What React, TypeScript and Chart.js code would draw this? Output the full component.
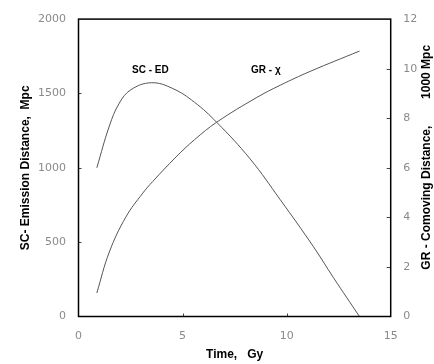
import React, { useEffect, useRef } from "react";
import { Chart, registerables } from "chart.js";

Chart.register(...registerables);

// SC - Emission distance (Mpc) vs time (Gy)
const scTime = [0.88, 1.48, 1.96, 2.52, 3.5, 4.53, 5.57, 6.64, 8.25, 9.69, 11.29, 12.25, 13.5];
const scDistance = [1000, 1280, 1435, 1525, 1572, 1533, 1441, 1306, 1059, 786, 469, 261, 0];

// GR - Comoving distance (1000 Mpc) vs time (Gy)
const grTime = [0.88, 1.48, 2.28, 3.09, 3.57, 4.69, 5.57, 6.64, 8.57, 9.69, 11.13, 13.5];
const grComoving = [0.95, 2.6, 4.02, 4.98, 5.45, 6.44, 7.13, 7.84, 8.84, 9.33, 9.89, 10.71];

// Axis ranges / ticks
const xRange = [0, 15];
const xStep = 5;
const yLeftRange = [0, 2000];
const yLeftStep = 500;
const yRightRange = [0, 12];
const yRightStep = 2;

// Text
const xTitle = "Time,   Gy";
const yLeftTitle = "SC- Emission Distance,  Mpc";
const yRightTitle = "GR - Comoving Distance,        1000 Mpc";
const curveLabels = [
  { text: "SC - ED", t: 3.45, v: 1655 },
  { text: "GR - \u03C7", t: 9.0, v: 1655 },
];

const TICK_FONT = { family: "'DejaVu Sans', sans-serif", size: 11 };
const TICK_COLOR = "#8a8a8a";
const TITLE_FONT = { family: "'Liberation Sans', Arial, sans-serif", size: 12, weight: "bold" as const };
const plainTick = (v: any) => String(v);

const framePlugin = {
  id: "framePlugin",
  afterDraw(chart: any) {
    const { ctx, chartArea, scales } = chart;
    const { left, right, top, bottom } = chartArea;
    ctx.save();
    // inner tick marks
    ctx.strokeStyle = "#444";
    ctx.lineWidth = 1;
    ctx.beginPath();
    const x = scales.x, y = scales.y, y1 = scales.y1;
    x.ticks.forEach((t: any) => {
      if (t.value <= x.min || t.value >= x.max) return;
      const px = Math.round(x.getPixelForValue(t.value)) + 0.5;
      ctx.moveTo(px, bottom);
      ctx.lineTo(px, bottom - 3);
    });
    y.ticks.forEach((t: any) => {
      if (t.value <= y.min || t.value >= y.max) return;
      const py = Math.round(y.getPixelForValue(t.value)) + 0.5;
      ctx.moveTo(left, py);
      ctx.lineTo(left + 3, py);
    });
    y1.ticks.forEach((t: any) => {
      if (t.value <= y1.min || t.value >= y1.max) return;
      const py = Math.round(y1.getPixelForValue(t.value)) + 0.5;
      ctx.moveTo(right, py);
      ctx.lineTo(right - 4, py);
    });
    ctx.stroke();
    // frame
    ctx.strokeStyle = "#000";
    ctx.lineWidth = 1.5;
    ctx.strokeRect(left, top, right - left, bottom - top);

    // curve labels
    ctx.fillStyle = "#000";
    ctx.font = "bold 10px 'Liberation Sans', Arial, sans-serif";
    ctx.textAlign = "center";
    ctx.textBaseline = "middle";
    curveLabels.forEach((l) => {
      ctx.fillText(l.text, x.getPixelForValue(l.t), y.getPixelForValue(l.v));
    });

    // right axis title (reads bottom to top)
    ctx.font = "bold 12px 'Liberation Sans', Arial, sans-serif";
    ctx.translate(chart.width - 7.5, (top + bottom) / 2 - 10.5);
    ctx.rotate(-Math.PI / 2);
    ctx.fillText(yRightTitle, 0, 0);
    ctx.restore();
  },
};

export default function App() {
  const ref = useRef<HTMLCanvasElement | null>(null);

  useEffect(() => {
    document.body.style.margin = "0";
    const canvas = ref.current;
    if (!canvas) return;
    const chart = new Chart(canvas, {
      type: "line",
      data: {
        datasets: [
          {
            label: "SC - ED",
            data: scTime.map((t, i) => ({ x: t, y: scDistance[i] })),
            yAxisID: "y",
            borderColor: "#555",
            borderWidth: 1,
            pointRadius: 0,
            tension: 0.4,
            fill: false,
          },
          {
            label: "GR - \u03C7",
            data: grTime.map((t, i) => ({ x: t, y: grComoving[i] })),
            yAxisID: "y1",
            borderColor: "#555",
            borderWidth: 1,
            pointRadius: 0,
            tension: 0.4,
            fill: false,
          },
        ],
      },
      options: {
        animation: false,
        responsive: false,
        maintainAspectRatio: false,
        layout: { padding: { top: 11.5, left: 0, right: 0, bottom: 0 } },
        plugins: { legend: { display: false }, tooltip: { enabled: false } },
        scales: {
          x: {
            type: "linear",
            min: xRange[0],
            max: xRange[1],
            ticks: { stepSize: xStep, font: TICK_FONT, color: TICK_COLOR, padding: 13, maxRotation: 0, callback: plainTick },
            grid: { display: false, drawTicks: false },
            border: { display: false },
            title: { display: true, text: xTitle, font: TITLE_FONT, color: "#000", padding: { top: 0, bottom: 2 } },
            afterFit: (s: any) => { s.height = 47.5; },
          },
          y: {
            position: "left",
            min: yLeftRange[0],
            max: yLeftRange[1],
            ticks: { stepSize: yLeftStep, font: TICK_FONT, color: TICK_COLOR, padding: 12.5, callback: plainTick },
            grid: { display: false, drawTicks: false },
            border: { display: false },
            title: { display: true, text: yLeftTitle, font: TITLE_FONT, color: "#000", padding: { top: 18.5, bottom: 0 } },
            afterFit: (s: any) => { s.width = 78.5; },
          },
          y1: {
            position: "right",
            min: yRightRange[0],
            max: yRightRange[1],
            ticks: { stepSize: yRightStep, font: TICK_FONT, color: TICK_COLOR, padding: 12.5, callback: plainTick },
            grid: { display: false, drawTicks: false },
            border: { display: false },
            title: { display: false, text: yRightTitle },
            afterFit: (s: any) => { s.width = 43.3; },
          },
        },
      },
      plugins: [framePlugin],
    } as any);
    return () => chart.destroy();
  }, []);

  return (
    <div style={{ width: 434, height: 364 }}>
      <canvas ref={ref} width={434} height={364} />
    </div>
  );
}
